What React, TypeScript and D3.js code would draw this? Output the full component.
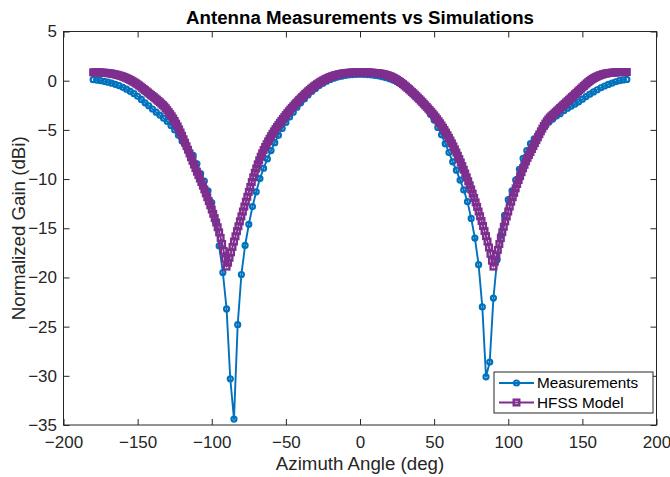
import * as d3 from "d3";
import { useEffect, useRef } from "react";

// Measured gain, sampled every 2.5 deg from -180 to 180
const measAngle = d3.range(-180, 182.5, 2.5);
const measGain = [
  0.1, 0.06, 0.0, -0.07, -0.15, -0.25, -0.37, -0.51, -0.67, -0.86,
  -1.08, -1.32, -1.58, -1.9, -2.25, -2.55, -2.88, -3.2, -3.5, -3.82,
  -4.15, -4.55, -5.0, -5.55, -6.15, -6.6, -7.2, -7.6, -8.45, -9.45,
  -10.2, -11.2, -12.4, -14.3, -16.8, -19.5, -23.2, -30.3, -34.4, -24.8,
  -19.7, -16.75, -14.6, -12.8, -11.3, -9.95, -8.9, -7.95, -7.1, -6.3,
  -5.55, -4.85, -4.25, -3.7, -3.2, -2.7, -2.25, -1.85, -1.45, -1.1,
  -0.8, -0.5, -0.25, -0.05, 0.12, 0.26, 0.37, 0.46, 0.53, 0.58,
  0.62, 0.64,
  0.65, 0.64, 0.62, 0.59, 0.55, 0.49, 0.41, 0.31, 0.19, 0.04,
  -0.13, -0.33, -0.56, -0.81, -1.1, -1.42, -1.78, -2.15, -2.7, -3.4,
  -4.0, -4.75, -5.5, -6.4, -7.3, -8.25, -9.1, -10.1, -11.1, -12.3,
  -14.0, -16.0, -18.7, -23.0, -30.1, -28.6, -22.1, -18.2, -15.7, -13.7,
  -12.1, -11.2, -10.1, -9.0, -7.9, -7.1, -6.4, -5.9, -5.5, -5.05,
  -4.6, -4.2, -3.9, -3.6, -3.35, -3.05, -2.8, -2.58, -2.38, -2.15,
  -1.88, -1.62, -1.37, -1.14, -0.92, -0.72, -0.54, -0.38, -0.24, -0.11,
  0.0, 0.08, 0.13,
];

// HFSS simulated gain, every 1 deg from -180 to 180
const hfssAngle = d3.range(-180, 181, 1);
const hfssGain = [
  0.85, 0.85, 0.85, 0.84, 0.84, 0.83, 0.82, 0.81, 0.8, 0.79,
  0.77, 0.75, 0.73, 0.7, 0.67, 0.64, 0.6, 0.56, 0.52, 0.47,
  0.42, 0.36, 0.3, 0.23, 0.16, 0.08, 0.0, -0.09, -0.18, -0.28,
  -0.38, -0.49, -0.6, -0.72, -0.84, -0.96, -1.08, -1.2, -1.32, -1.44,
  -1.56, -1.68, -1.8, -1.93, -2.06, -2.19, -2.33, -2.47, -2.62, -2.8,
  -3.0, -3.2, -3.4, -3.62, -3.85, -4.1, -4.37, -4.65, -4.95, -5.27,
  -5.6, -5.95, -6.3, -6.66, -7.02, -7.4, -7.78, -8.15, -8.52, -8.89,
  -9.25, -9.6, -9.95, -10.3, -10.67, -11.05, -11.45, -11.85, -12.25, -12.67,
  -13.1, -13.53, -13.97, -14.42, -14.9, -15.42, -15.98, -16.6, -17.3, -18.1,
  -18.9, -18.5, -18.0, -17.45, -16.9, -16.35, -15.82, -15.3, -14.8, -14.3,
  -13.8, -13.3, -12.8, -12.3, -11.8, -11.3, -10.8, -10.3, -9.82, -9.36,
  -8.92, -8.5, -8.1, -7.73, -7.38, -7.05, -6.74, -6.45, -6.17, -5.9,
  -5.64, -5.39, -5.15, -4.92, -4.7, -4.49, -4.28, -4.08, -3.88, -3.68,
  -3.49, -3.3, -3.12, -2.94, -2.77, -2.6, -2.43, -2.27, -2.11, -1.95,
  -1.8, -1.65, -1.5, -1.36, -1.22, -1.08, -0.95, -0.82, -0.7, -0.58,
  -0.47, -0.36, -0.26, -0.16, -0.07, 0.02, 0.1, 0.18, 0.25, 0.32,
  0.38, 0.44, 0.49, 0.54, 0.58, 0.62, 0.66, 0.69, 0.72, 0.74,
  0.76, 0.78, 0.8, 0.81, 0.82, 0.83, 0.84, 0.84, 0.85, 0.85,
  0.85, 0.85, 0.85, 0.85, 0.84, 0.84, 0.83, 0.82, 0.81, 0.8,
  0.79, 0.78, 0.76, 0.74, 0.72, 0.69, 0.66, 0.62, 0.58, 0.53,
  0.47, 0.41, 0.34, 0.26, 0.17, 0.08, -0.02, -0.12, -0.23, -0.35,
  -0.48, -0.6, -0.73, -0.86, -1.0, -1.14, -1.28, -1.42, -1.57, -1.72,
  -1.87, -2.02, -2.18, -2.34, -2.5, -2.66, -2.83, -3.0, -3.17, -3.35,
  -3.53, -3.72, -3.92, -4.12, -4.33, -4.55, -4.78, -5.02, -5.27, -5.53,
  -5.8, -6.08, -6.37, -6.67, -6.98, -7.3, -7.63, -7.97, -8.32, -8.68,
  -9.05, -9.43, -9.82, -10.22, -10.63, -11.05, -11.48, -11.92, -12.37, -12.83,
  -13.3, -13.78, -14.27, -14.77, -15.28, -15.8, -16.35, -16.95, -17.6, -18.3,
  -18.9, -18.4, -17.8, -17.2, -16.6, -16.0, -15.4, -14.85, -14.3, -13.8,
  -13.3, -12.8, -12.3, -11.85, -11.4, -10.95, -10.5, -10.1, -9.7, -9.3,
  -8.9, -8.55, -8.2, -7.85, -7.55, -7.25, -6.95, -6.65, -6.35, -6.05,
  -5.75, -5.45, -5.15, -4.87, -4.6, -4.36, -4.14, -3.94, -3.76, -3.62,
  -3.48, -3.34, -3.2, -3.06, -2.92, -2.78, -2.64, -2.5, -2.36, -2.22,
  -2.08, -1.94, -1.8, -1.66, -1.52, -1.38, -1.24, -1.1, -0.96, -0.82,
  -0.68, -0.54, -0.4, -0.27, -0.14, -0.02, 0.09, 0.19, 0.28, 0.36,
  0.43, 0.5, 0.56, 0.61, 0.66, 0.7, 0.73, 0.76, 0.78, 0.8,
  0.82, 0.83, 0.84, 0.85, 0.86, 0.87, 0.87, 0.88, 0.88, 0.88,
  0.88,
];

const xTicks = [-200, -150, -100, -50, 0, 50, 100, 150, 200];
const yTicks = [-35, -30, -25, -20, -15, -10, -5, 0, 5];
const seriesNames = ["Measurements", "HFSS Model"];

const FONT = "'Liberation Sans', Arial, Helvetica, sans-serif";
const AXIS_COLOR = "#262626";
const BLUE = "#0072BD";
const PURPLE = "#7E2F8E";

const App = () => {
  const svgRef = useRef(null);

  useEffect(() => {
    const svg = d3.select(svgRef.current);
    const width = 670;
    const height = 477;
    const margin = { top: 31.5, right: 13.5, bottom: 52, left: 63.5 };

    svg.selectAll("*").remove();

    const x = d3.scaleLinear().domain([-200, 200]).range([margin.left, width - margin.right]);
    const y = d3.scaleLinear().domain([-35, 5]).range([height - margin.bottom, margin.top]);

    const styleAxis = (g, showText) => {
      g.select(".domain").remove();
      g.selectAll(".tick line").attr("stroke", AXIS_COLOR).attr("stroke-width", 1);
      g.selectAll(".tick text")
        .attr("fill", AXIS_COLOR)
        .style("font-family", FONT)
        .style("font-size", "17px")
        .style("display", showText ? null : "none");
    };

    svg.append("g")
      .attr("transform", `translate(0,${height - margin.bottom})`)
      .call(d3.axisBottom(x).tickValues(xTicks).tickSizeInner(-6).tickSizeOuter(0).tickPadding(11))
      .call(g => styleAxis(g, true));

    svg.append("g")
      .attr("transform", `translate(0,${margin.top})`)
      .call(d3.axisTop(x).tickValues(xTicks).tickSizeInner(-6).tickSizeOuter(0))
      .call(g => styleAxis(g, false));

    svg.append("g")
      .attr("transform", `translate(${margin.left},0)`)
      .call(d3.axisLeft(y).tickValues(yTicks).tickSizeInner(-6).tickSizeOuter(0).tickPadding(6.5))
      .call(g => styleAxis(g, true));

    svg.append("g")
      .attr("transform", `translate(${width - margin.right},0)`)
      .call(d3.axisRight(y).tickValues(yTicks).tickSizeInner(-6).tickSizeOuter(0))
      .call(g => styleAxis(g, false));

    svg.append("rect")
      .attr("x", margin.left)
      .attr("y", margin.top)
      .attr("width", width - margin.left - margin.right)
      .attr("height", height - margin.top - margin.bottom)
      .attr("fill", "none")
      .attr("stroke", AXIS_COLOR)
      .attr("stroke-width", 1);

    const measData = measAngle.map((a, i) => ({ a, g: measGain[i] }));
    const hfssData = hfssAngle.map((a, i) => ({ a, g: hfssGain[i] }));

    const line = d3.line()
      .x(d => x(d.a))
      .y(d => y(d.g));

    // measurements
    svg.append("path")
      .datum(measData)
      .attr("fill", "none")
      .attr("stroke", BLUE)
      .attr("stroke-width", 1.9)
      .attr("stroke-linejoin", "round")
      .attr("d", line);

    svg.append("g")
      .selectAll("circle")
      .data(measData)
      .join("circle")
      .attr("cx", d => x(d.a))
      .attr("cy", d => y(d.g))
      .attr("r", 2.5)
      .attr("fill", "none")
      .attr("stroke", BLUE)
      .attr("stroke-width", 2.2);

    // HFSS model
    svg.append("path")
      .datum(hfssData)
      .attr("fill", "none")
      .attr("stroke", PURPLE)
      .attr("stroke-width", 2)
      .attr("stroke-linejoin", "round")
      .attr("d", line);

    svg.append("g")
      .selectAll("rect")
      .data(hfssData)
      .join("rect")
      .attr("x", d => x(d.a) - 2.8)
      .attr("y", d => y(d.g) - 2.8)
      .attr("width", 5.6)
      .attr("height", 5.6)
      .attr("fill", "none")
      .attr("stroke", PURPLE)
      .attr("stroke-width", 2.4);

    // title and labels
    svg.append("text")
      .attr("x", (margin.left + width - margin.right) / 2)
      .attr("y", 24)
      .attr("text-anchor", "middle")
      .style("font-family", FONT)
      .style("font-size", "18.7px")
      .style("font-weight", "bold")
      .attr("fill", "#000")
      .text("Antenna Measurements vs Simulations");

    svg.append("text")
      .attr("x", (margin.left + width - margin.right) / 2)
      .attr("y", 470)
      .attr("text-anchor", "middle")
      .style("font-family", FONT)
      .style("font-size", "18.7px")
      .attr("fill", AXIS_COLOR)
      .text("Azimuth Angle (deg)");

    svg.append("text")
      .attr("transform", `translate(25,${(margin.top + height - margin.bottom) / 2}) rotate(-90)`)
      .attr("text-anchor", "middle")
      .style("font-family", FONT)
      .style("font-size", "18.7px")
      .attr("fill", AXIS_COLOR)
      .text("Normalized Gain (dBi)");

    // legend
    const legend = svg.append("g");
    legend.append("rect")
      .attr("x", 494)
      .attr("y", 372)
      .attr("width", 159)
      .attr("height", 41)
      .attr("fill", "#fff")
      .attr("stroke", AXIS_COLOR)
      .attr("stroke-width", 1);

    const colors = [BLUE, PURPLE];
    seriesNames.forEach((name, i) => {
      const ly = 383 + i * 19.5;
      const item = legend.append("g");
      item.append("line")
        .attr("x1", 499).attr("x2", 534)
        .attr("y1", ly).attr("y2", ly)
        .attr("stroke", colors[i])
        .attr("stroke-width", 2);
      if (i === 0) {
        item.append("circle")
          .attr("cx", 516.5).attr("cy", ly).attr("r", 2.5)
          .attr("fill", "none").attr("stroke", colors[i]).attr("stroke-width", 2.2);
      } else {
        item.append("rect")
          .attr("x", 513.7).attr("y", ly - 2.8).attr("width", 5.6).attr("height", 5.6)
          .attr("fill", "none").attr("stroke", colors[i]).attr("stroke-width", 2.4);
      }
      item.append("text")
        .attr("x", 537)
        .attr("y", ly)
        .attr("dy", "0.35em")
        .style("font-family", FONT)
        .style("font-size", "15.3px")
        .attr("fill", "#000")
        .text(name);
    });
  }, []);

  return (
    <svg
      ref={svgRef}
      width={670}
      height={477}
      style={{ position: "absolute", left: 0, top: 0, background: "#fff" }}
    />
  );
};

export default App;
